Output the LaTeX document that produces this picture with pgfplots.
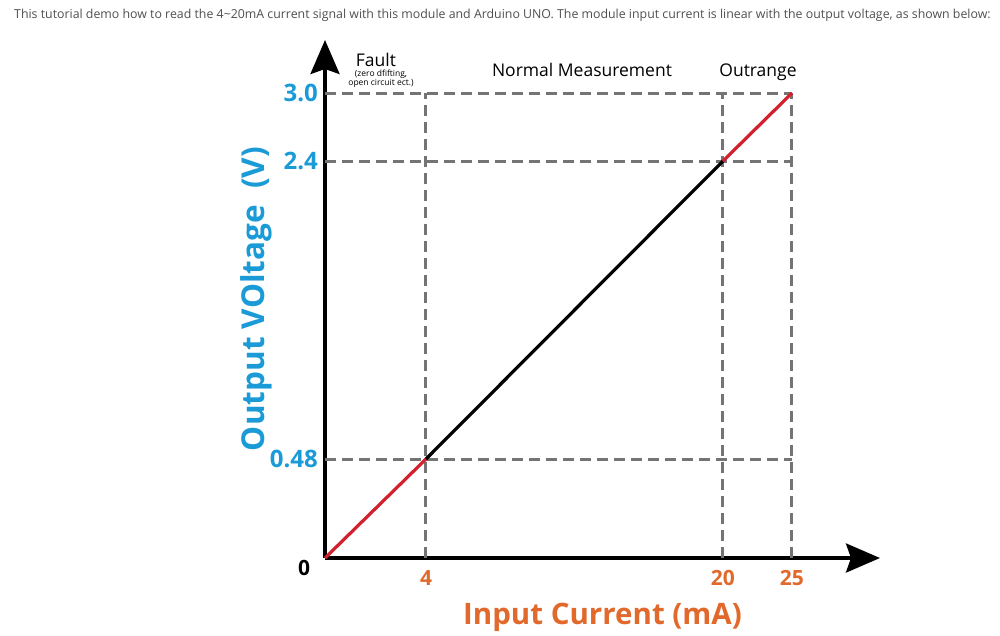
\documentclass[border=0pt]{standalone}
\usepackage{fontspec}
\setmainfont{Open Sans}
\usepackage{pgfplots}
\pgfplotsset{compat=1.18}
\usetikzlibrary{arrows.meta}
\definecolor{vblue}{HTML}{1A9BD7}
\definecolor{iorange}{HTML}{E2692C}
\definecolor{lred}{HTML}{D3202E}
\definecolor{dgray}{HTML}{747474}
\definecolor{tgray}{HTML}{505050}
\begin{document}
\begin{tikzpicture}
\path[use as bounding box, fill=white] (0pt,0pt) rectangle (1000pt,-636pt);
\node[anchor=base west, inner sep=0, text=tgray, font=\fontsize{12.35}{14}\selectfont] at (14pt,-19pt)
 {This tutorial demo how to read the 4\textasciitilde20mA current signal with this module and Arduino UNO. The module input current is linear with the output voltage, as shown below:};
\begin{axis}[
 at={(325pt,-558pt)}, anchor=south west,
 scale only axis, width=555pt, height=518pt,
 x coord trafo/.code={\pgfmathparse{(#1<=4)?(#1*25.25):((#1<=20)?(101+(#1-4)*18.5625):(398+(#1-20)*13.8))}},
 y coord trafo/.code={\pgfmathparse{(#1<=0.48)?(#1*206.25):((#1<=2.4)?(99+(#1-0.48)*155.2083):(397+(#1-2.4)*113.333))}},
 xmin=0, xmax=31.38, ymin=0, ymax=3.468,
 enlargelimits=false,
 axis lines=left,
 axis line style={line width=3.5pt, -{Stealth[length=34pt,width=29pt,inset=5pt]}},
 major tick length=0pt,
 xtick={4,20,25}, xticklabels={4,20,25},
 ytick={0.48,2.4,3.0}, yticklabels={0.48,2.4,3.0},
 xticklabel style={anchor=base, yshift=-27pt, inner sep=0pt, text=iorange, font=\fontsize{21}{24}\selectfont\bfseries},
 yticklabel style={anchor=east, xshift=-7pt, inner sep=0pt, text=vblue, font=\fontsize{24}{28}\selectfont\bfseries},
 xlabel={Input Current (mA)},
 xlabel style={at={(axis description cs:0.5,0)}, anchor=base, yshift=-66pt, inner sep=0pt, text=iorange, font=\fontsize{29.5}{34}\selectfont\bfseries},
 ylabel={Output VOltage\ \ (V)},
 ylabel style={at={(axis description cs:-0.1099,0.5)}, anchor=base, inner sep=0pt, text=vblue, font=\fontsize{31.5}{36}\selectfont\bfseries},
 clip=false,
]
% dashed guide lines
\addplot[dgray, line width=3pt, dash pattern=on 11pt off 6pt] coordinates {(0,3.0) (25,3.0)};
\addplot[dgray, line width=3pt, dash pattern=on 11pt off 6pt] coordinates {(0,2.4) (25,2.4)};
\addplot[dgray, line width=3pt, dash pattern=on 11pt off 6pt] coordinates {(0,0.48) (25,0.48)};
\addplot[dgray, line width=3pt, dash pattern=on 11pt off 6pt] coordinates {(4,0) (4,3.0)};
\addplot[dgray, line width=3pt, dash pattern=on 11pt off 6pt] coordinates {(20,0) (20,3.0)};
\addplot[dgray, line width=3pt, dash pattern=on 11pt off 6pt] coordinates {(25,0) (25,3.0)};
% characteristic
\addplot[lred, line width=3.2pt] coordinates {(0,0) (4,0.48)};
\addplot[black, line width=3.2pt] coordinates {(4,0.48) (20,2.4)};
\addplot[lred, line width=3.2pt] coordinates {(20,2.4) (25,3.0)};
% annotations
\node[anchor=center, font=\fontsize{21}{24}\selectfont\bfseries] at (axis cs:0,0) [xshift=-21pt, yshift=-10pt] {0};
\end{axis}
\node[font=\fontsize{17.5}{20}\selectfont] at (376pt,-60pt) {Fault};
\node[font=\fontsize{8.5}{9.5}\selectfont, align=center, inner sep=0pt] at (381pt,-79pt) {(zero dfifting,\\open circuit ect.)};
\node[anchor=base, inner sep=0pt, font=\fontsize{17.5}{20}\selectfont] at (582pt,-77pt) {Normal Measurement};
\node[anchor=base, inner sep=0pt, font=\fontsize{17.5}{20}\selectfont] at (758pt,-77pt) {Outrange};
\end{tikzpicture}
\end{document}
